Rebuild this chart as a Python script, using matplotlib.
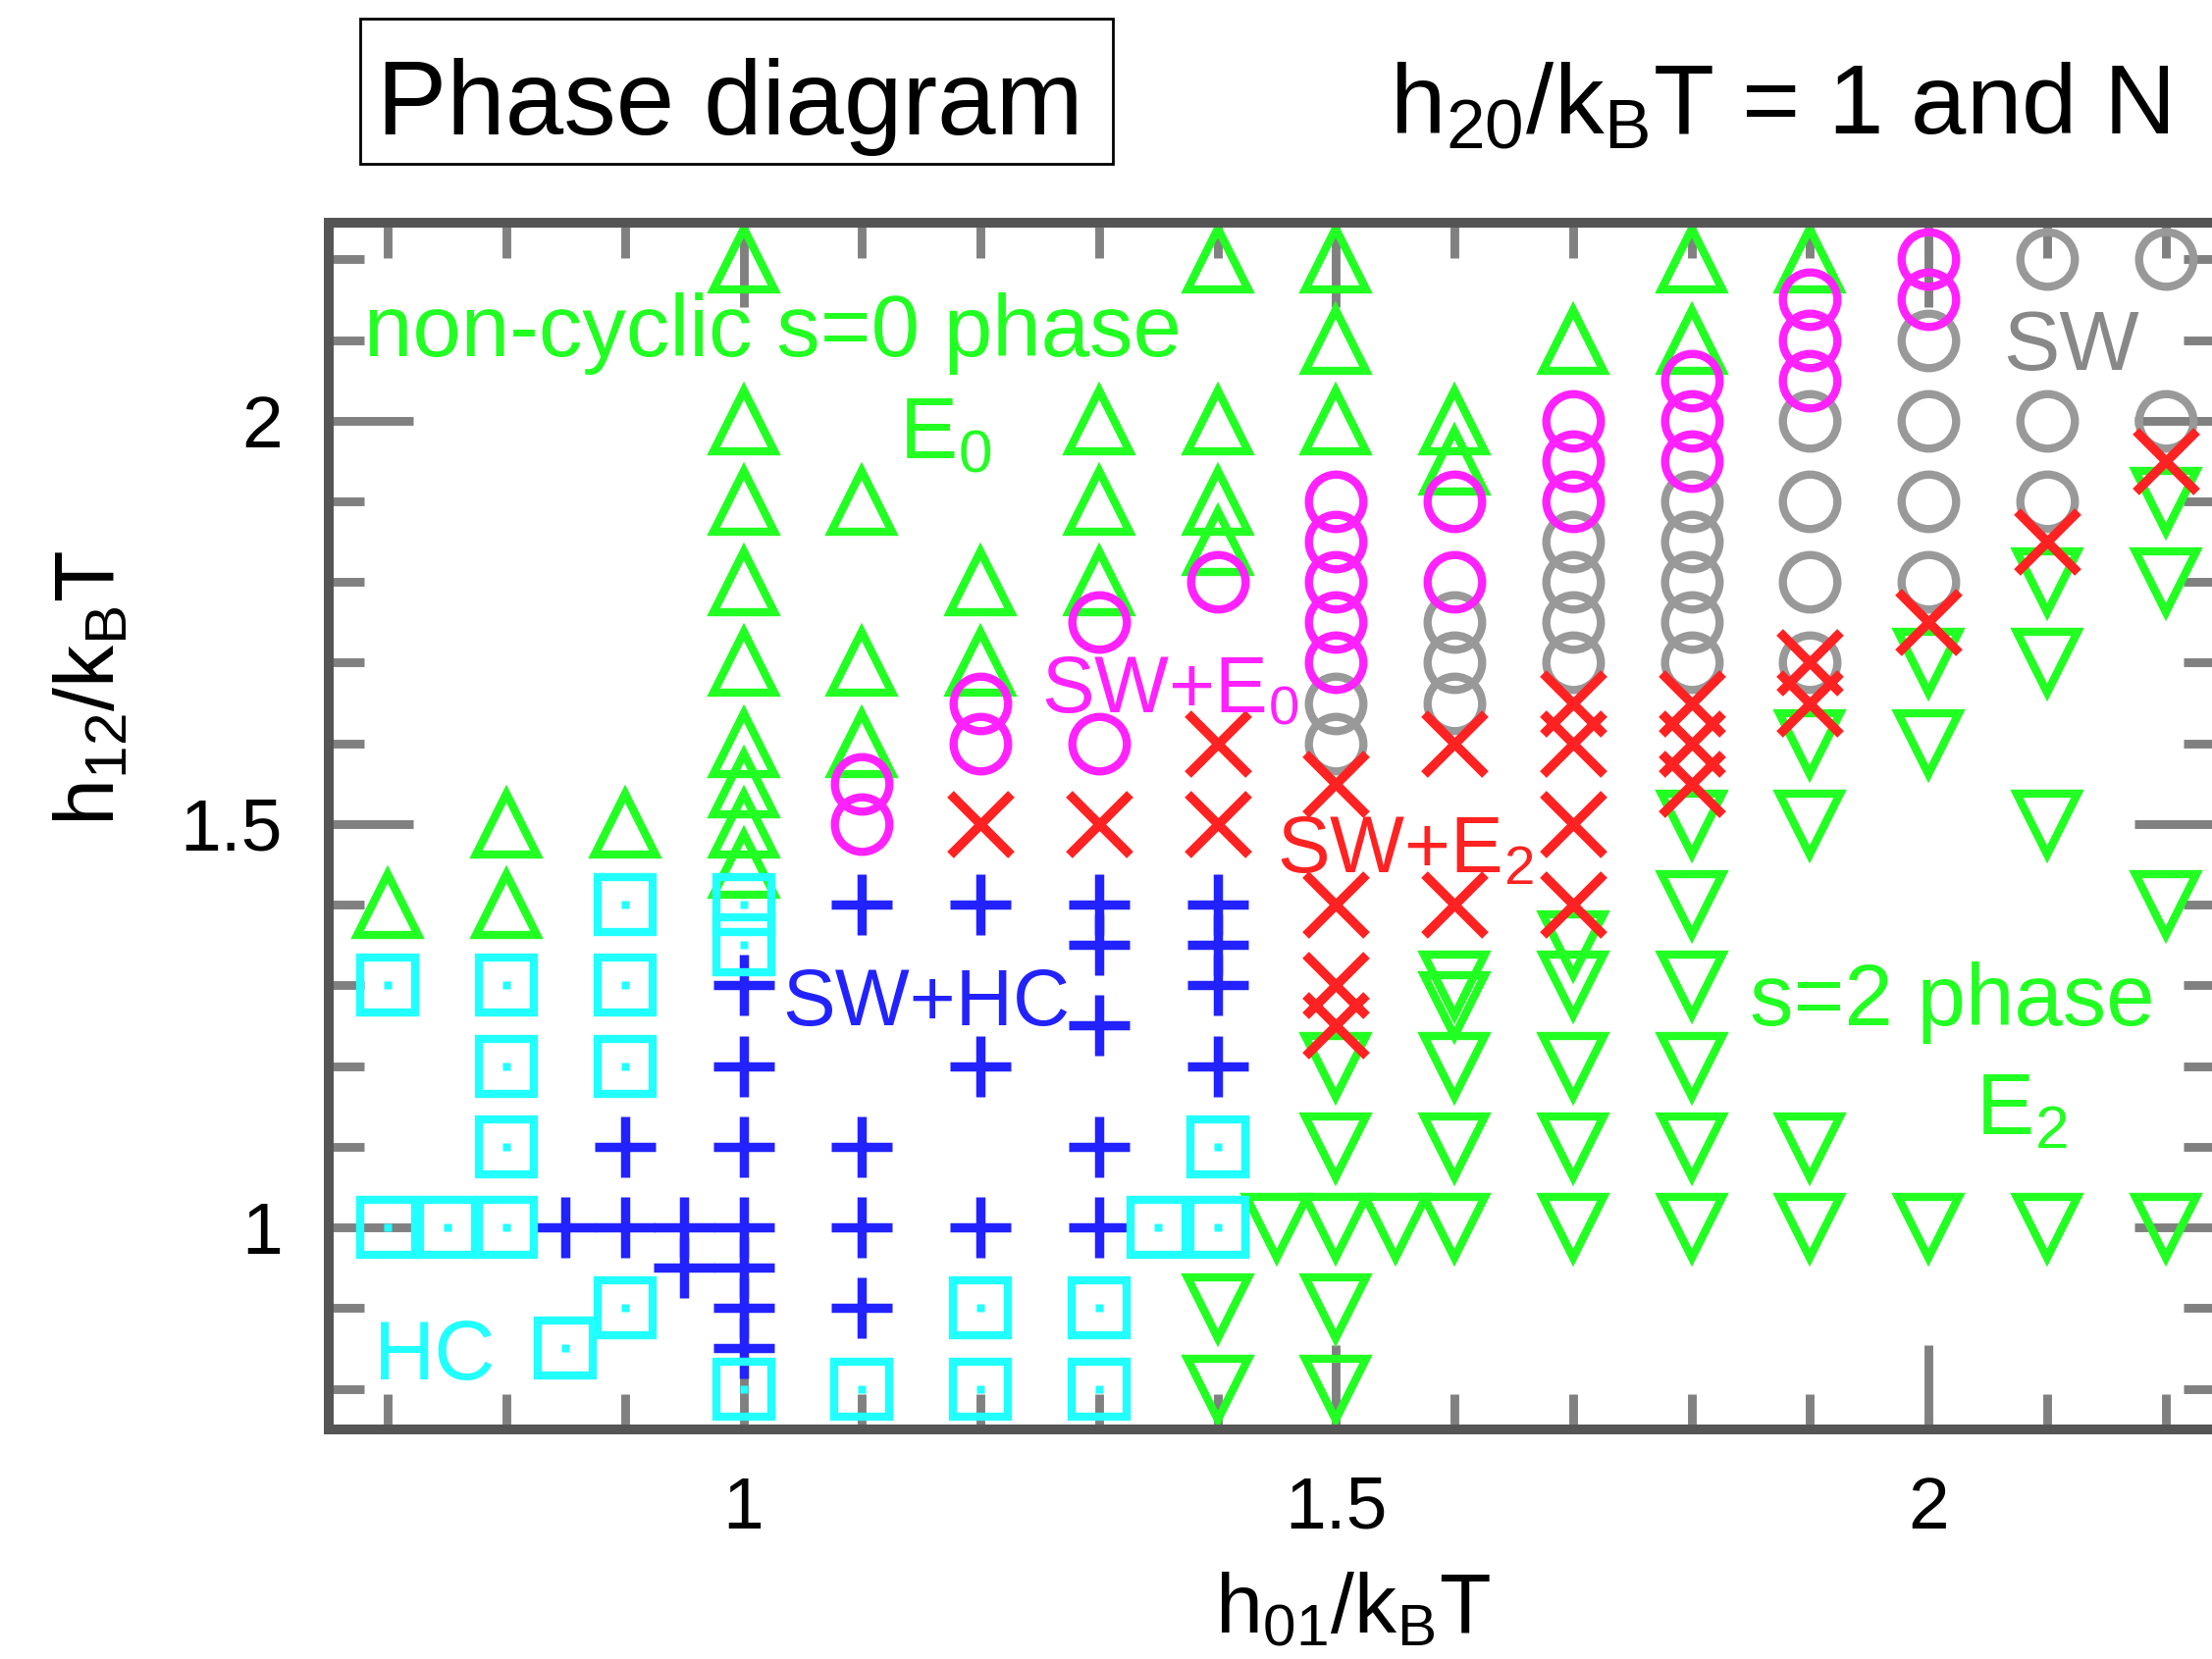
import numpy as np
import matplotlib.pyplot as plt
from matplotlib.ticker import MultipleLocator, FuncFormatter
from matplotlib.patches import Rectangle

plt.rcParams['font.family'] = ['Liberation Sans', 'DejaVu Sans']
plt.rcParams['mathtext.fontset'] = 'custom'
plt.rcParams['mathtext.rm'] = 'Liberation Sans'
plt.rcParams['mathtext.it'] = 'Liberation Sans'
plt.rcParams['mathtext.default'] = 'regular'

# points (h01/kBT, h12/kBT) for each phase
e0_pts = [(0.7, 1.4), (0.8, 1.5), (0.8, 1.4), (0.9, 1.5),
          (1.0, 2.2), (1.0, 2.0), (1.0, 1.9), (1.0, 1.8), (1.0, 1.7),
          (1.0, 1.6), (1.0, 1.55), (1.0, 1.5), (1.0, 1.45),
          (1.1, 1.9), (1.1, 1.7), (1.1, 1.6), (1.2, 1.8), (1.2, 1.7),
          (1.3, 2.0), (1.3, 1.9), (1.3, 1.8),
          (1.4, 2.2), (1.4, 2.0), (1.4, 1.9), (1.4, 1.85),
          (1.5, 2.2), (1.5, 2.1), (1.5, 2.0), (1.6, 2.0), (1.6, 1.95),
          (1.7, 2.1), (1.8, 2.2), (1.8, 2.1), (1.9, 2.2)]
e2_pts = [(1.4, 0.9), (1.4, 0.8), (1.45, 1.0),
          (1.5, 1.2), (1.5, 1.1), (1.5, 1.0), (1.5, 0.9), (1.5, 0.8), (1.55, 1.0),
          (1.6, 1.3), (1.6, 1.275), (1.6, 1.2), (1.6, 1.1), (1.6, 1.0),
          (1.7, 1.35), (1.7, 1.3), (1.7, 1.2), (1.7, 1.1), (1.7, 1.0),
          (1.8, 1.5), (1.8, 1.4), (1.8, 1.3), (1.8, 1.2), (1.8, 1.1), (1.8, 1.0),
          (1.9, 1.6), (1.9, 1.5), (1.9, 1.1), (1.9, 1.0),
          (2.0, 1.7), (2.0, 1.6), (2.0, 1.0),
          (2.1, 1.8), (2.1, 1.7), (2.1, 1.5), (2.1, 1.0),
          (2.2, 1.9), (2.2, 1.8), (2.2, 1.4), (2.2, 1.0)]
sw_e0_pts = [(1.1, 1.55), (1.1, 1.5), (1.2, 1.65), (1.2, 1.6),
             (1.3, 1.75), (1.3, 1.6), (1.4, 1.8),
             (1.5, 1.9), (1.5, 1.85), (1.5, 1.8), (1.5, 1.75), (1.5, 1.7),
             (1.6, 1.9), (1.6, 1.8), (1.7, 2.0), (1.7, 1.95), (1.7, 1.9),
             (1.8, 2.05), (1.8, 2.0), (1.8, 1.95),
             (1.9, 2.15), (1.9, 2.1), (1.9, 2.05), (2.0, 2.2), (2.0, 2.15)]
sw_pts = [(1.5, 1.65), (1.5, 1.6), (1.6, 1.75), (1.6, 1.7), (1.6, 1.65),
          (1.7, 1.85), (1.7, 1.8), (1.7, 1.75), (1.7, 1.7),
          (1.8, 1.9), (1.8, 1.85), (1.8, 1.8), (1.8, 1.75), (1.8, 1.7),
          (1.9, 2.0), (1.9, 1.9), (1.9, 1.8), (1.9, 1.7),
          (2.0, 2.1), (2.0, 2.0), (2.0, 1.9), (2.0, 1.8),
          (2.1, 2.2), (2.1, 2.0), (2.1, 1.9), (2.2, 2.2), (2.2, 2.0)]
sw_e2_pts = [(1.2, 1.5), (1.3, 1.5), (1.4, 1.6), (1.4, 1.5),
             (1.5, 1.55), (1.5, 1.4), (1.5, 1.3), (1.5, 1.25),
             (1.6, 1.6), (1.6, 1.4), (1.7, 1.65), (1.7, 1.6), (1.7, 1.5), (1.7, 1.4),
             (1.8, 1.65), (1.8, 1.6), (1.8, 1.55), (1.9, 1.7), (1.9, 1.65),
             (2.0, 1.75), (2.1, 1.85), (2.2, 1.95)]
sw_hc_pts = [(0.85, 1.0), (0.9, 1.1), (0.9, 1.0), (0.95, 1.0), (0.95, 0.95),
             (1.0, 1.3), (1.0, 1.2), (1.0, 1.1), (1.0, 1.0), (1.0, 0.95),
             (1.0, 0.9), (1.0, 0.85),
             (1.1, 1.4), (1.1, 1.1), (1.1, 1.0), (1.1, 0.9),
             (1.2, 1.4), (1.2, 1.2), (1.2, 1.0),
             (1.3, 1.4), (1.3, 1.35), (1.3, 1.25), (1.3, 1.1), (1.3, 1.0),
             (1.4, 1.4), (1.4, 1.35), (1.4, 1.3), (1.4, 1.2)]
hc_pts = [(0.7, 1.3), (0.7, 1.0), (0.75, 1.0),
          (0.8, 1.3), (0.8, 1.2), (0.8, 1.1), (0.8, 1.0), (0.85, 0.85),
          (0.9, 1.4), (0.9, 1.3), (0.9, 1.2), (0.9, 0.9),
          (1.0, 1.4), (1.0, 1.35), (1.0, 0.8), (1.1, 0.8),
          (1.2, 0.9), (1.2, 0.8), (1.3, 0.9), (1.3, 0.8),
          (1.35, 1.0), (1.4, 1.1), (1.4, 1.0)]

green = '#22ff22'
magenta = '#ff22ff'
gray = '#999999'
red = '#ff2222'
blue = '#2222ff'
cyan = '#22ffff'

fig = plt.figure(figsize=(11.27, 8.455), dpi=200)
ax = fig.add_axes([0.1486, 0.1386, 0.8545, 0.7270])


def draw(pts, marker, color, ms, mew):
    p = np.array(pts)
    ax.plot(p[:, 0], p[:, 1], linestyle='none', marker=marker, ms=ms,
            mfc='none', mec=color, mew=mew, zorder=2)


draw(e0_pts, '^', green, 22, 3.0)
draw(e2_pts, 'v', green, 22, 3.0)
draw(sw_pts, 'o', gray, 20, 3.0)
draw(sw_e0_pts, 'o', magenta, 20, 3.0)
draw(sw_e2_pts, 'x', red, 22, 3.4)
draw(sw_hc_pts, '+', blue, 22, 3.4)
draw(hc_pts, 's', cyan, 20, 3.0)
hc = np.array(hc_pts)
ax.plot(hc[:, 0], hc[:, 1], linestyle='none', marker='s', ms=3,
        mfc=cyan, mec='none', zorder=2)

# phase labels
ax.text(0.68, 2.08, 'non-cyclic s=0 phase', color=green, fontsize=32, va='baseline')
ax.text(1.131, 1.953, 'E$_0$', color=green, fontsize=32, va='baseline')
ax.text(1.251, 1.638, 'SW+E$_0$', color=magenta, fontsize=29, va='baseline')
ax.text(1.45, 1.44, 'SW+E$_2$', color=red, fontsize=29, va='baseline')
ax.text(1.033, 1.25, 'SW+HC', color=blue, fontsize=29, va='baseline')
ax.text(1.849, 1.25, 's=2 phase', color=green, fontsize=32, va='baseline')
ax.text(2.04, 1.114, 'E$_2$', color=green, fontsize=32, va='baseline')
ax.text(2.063, 2.063, 'SW', color='#888888', fontsize=31, va='baseline')
ax.text(0.688, 0.811, 'HC', color=cyan, fontsize=31, va='baseline')

ax.set_xlim(0.65, 2.245)
ax.set_ylim(0.75, 2.245)
for a in (ax.xaxis, ax.yaxis):
    a.set_major_locator(MultipleLocator(0.5))
    a.set_minor_locator(MultipleLocator(0.1))
    a.set_major_formatter(FuncFormatter(lambda v, p: f'{v:g}'))
ax.tick_params(which='both', direction='in', top=True, right=True,
               color='#808080', width=3.2, labelsize=27)
ax.tick_params(which='major', length=31, pad=17)
ax.tick_params(which='minor', length=13)
for s in ax.spines.values():
    s.set_linewidth(3.6)
    s.set_color('#555555')

ax.set_xlabel('h$_{01}$/k$_B$T', fontsize=31)
ax.xaxis.set_label_coords(0.542, -0.118)
ax.set_ylabel('h$_{12}$/k$_B$T', fontsize=31)
ax.yaxis.set_label_coords(-0.104, 0.614)

# header
fig.patches.append(Rectangle((0.1628, 0.9012), 0.3403, 0.0875, transform=fig.transFigure,
                             fill=False, edgecolor='black', linewidth=1.0))
fig.text(0.330, 0.919, 'Phase diagram', fontsize=38.5, ha='center', va='baseline')
fig.text(0.628, 0.919, 'h$_{20}$/k$_B$T = 1 and N', fontsize=36.5, ha='left', va='baseline')

fig.savefig('out.png', dpi=200)
